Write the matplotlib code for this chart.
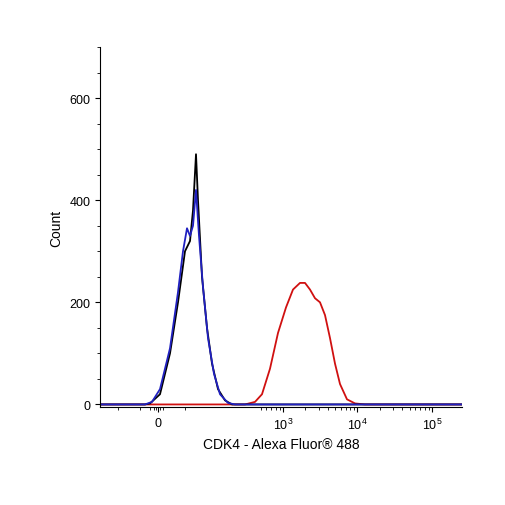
import matplotlib
matplotlib.use("Agg")
import matplotlib.pyplot as plt
import numpy as np
plt.rcParams['font.family'] = ['Liberation Sans', 'DejaVu Sans']

# x positions on the display scale (decade units: 3 -> 10^3), counts
px = lambda a: [3 + (v - 283) / 74.5 for v in a]
black_x = px([100,145,150,160,170,178,185,190,193,196,198,202,207,212,218,225,232,462])
black_y = [0,0,2,20,100,200,300,320,380,490,400,250,150,80,30,8,0,0]
blue_x = px([100,145,152,160,170,178,183,187,190,193,196,199,203,208,214,220,228,235,462])
blue_y = [0,0,5,30,110,220,300,345,330,350,420,330,230,130,60,20,3,0,0]
red_x = px([100,245,255,262,270,278,286,293,300,305,310,315,320,325,330,335,340,347,355,365,462])
red_y = [0,0,5,20,70,140,190,225,238,238,225,208,200,175,130,80,40,10,2,0,0]
xtick_pos = [px([158])[0], 3, 4, 5]
xtick_lab = ["0", "$\\mathregular{10^3}$", "$\\mathregular{10^4}$", "$\\mathregular{10^5}$"]

fig = plt.figure(figsize=(5.06, 5.06), dpi=100)
ax = fig.add_axes([100/506, 1-408/506, 362/506, 360/506])
ax.plot(red_x, red_y, color="#d01010", lw=1.3)
ax.plot(black_x, black_y, color="black", lw=1.3)
ax.plot(blue_x, blue_y, color="#2020c0", lw=1.3)
ax.set_xlim(px([100])[0], px([462])[0])
ax.set_ylim(-5, 700)
ax.set_yticks([0, 200, 400, 600])
ax.set_yticks(np.arange(0, 701, 50), minor=True)
ax.set_xticks(xtick_pos)
ax.set_xticklabels(xtick_lab)
mx = list(px([118,140,150,154,156,160,163,185]))
for d in [3, 4]:
    mx += [d + np.log10(k) for k in range(2, 10)]
mx += [2 + np.log10(k) for k in range(5, 10)]
ax.set_xticks(mx, minor=True)
for s in ["top", "right"]:
    ax.spines[s].set_visible(False)
ax.tick_params(labelsize=9)
ax.set_xlabel("CDK4 - Alexa Fluor® 488", fontsize=10)
ax.set_ylabel("Count", fontsize=10)
fig.savefig("out.png", dpi=100)
